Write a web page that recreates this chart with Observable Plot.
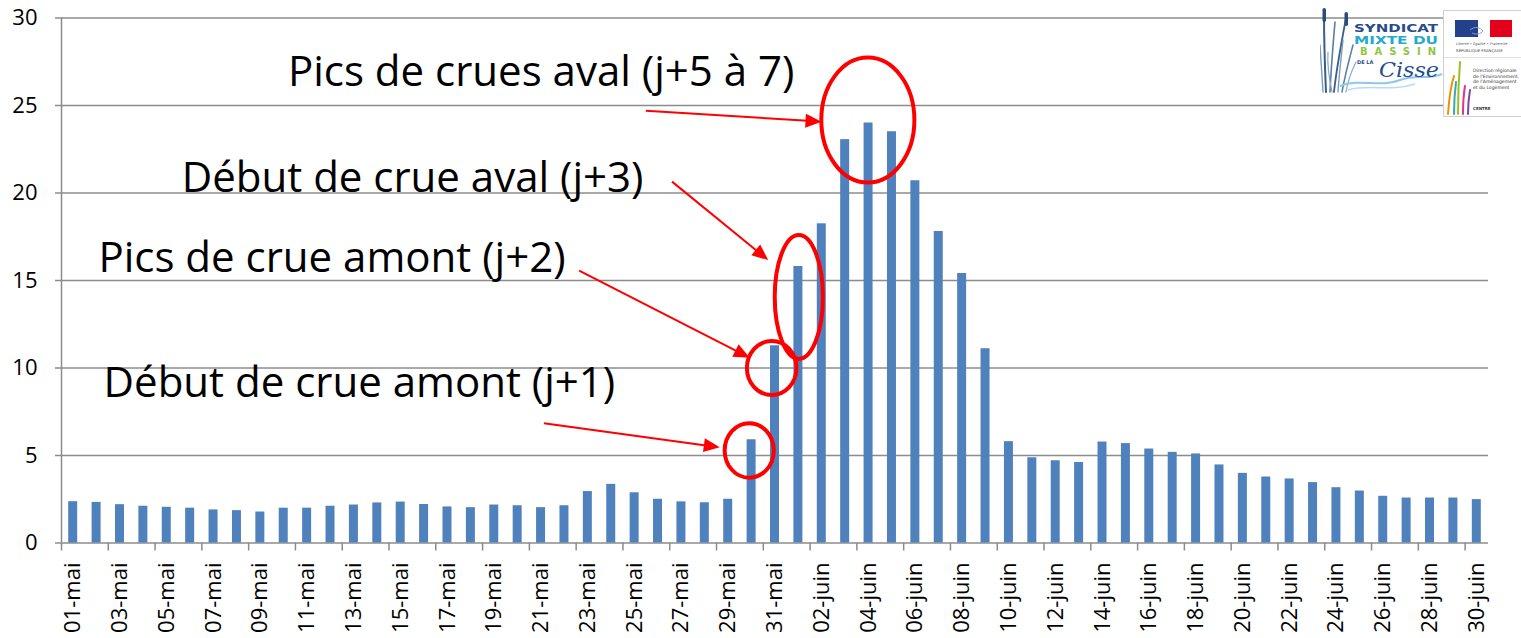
<!DOCTYPE html>
<html>
<head>
<meta charset="utf-8">
<script src="https://cdn.jsdelivr.net/npm/d3@7"></script>
<script src="https://cdn.jsdelivr.net/npm/@observablehq/plot@0.6"></script>
<style>
html,body{margin:0;padding:0;background:#fff;}
#wrap{position:relative;width:1521px;height:638px;overflow:hidden;background:#fff;}
#logos{position:absolute;left:1320px;top:0;}
</style>
</head>
<body>
<div id="wrap">
<div id="chart"></div>
<svg id="logos" width="201" height="125" viewBox="0 0 201 125" xmlns="http://www.w3.org/2000/svg">
  <!-- Syndicat logo -->
  <rect x="33" y="20" width="90" height="80" fill="#fff"/>
  <g fill="none" stroke-linecap="round">
    <path d="M6,92 C5,70 4,40 4,12" stroke="#3b5f86" stroke-width="2"/>
    <path d="M10,92 C11,70 13,45 15,22" stroke="#5a7ea3" stroke-width="1.6"/>
    <path d="M14,92 C16,72 20,50 26,18" stroke="#3b5f86" stroke-width="1.8"/>
    <path d="M18,92 C19,75 21,60 23,40" stroke="#7a9cc0" stroke-width="1.4"/>
    <path d="M22,92 C25,75 29,60 33,45" stroke="#5a7ea3" stroke-width="1.5"/>
    <path d="M3,92 C2,75 1,60 0,45" stroke="#7a9cc0" stroke-width="1.4"/>
    <path d="M26,92 C28,80 31,72 36,62" stroke="#8aa8c8" stroke-width="1.2"/>
    <path d="M12,92 C9,78 7,66 8,52" stroke="#8aa8c8" stroke-width="1.2"/>
  </g>
  <rect x="2.5" y="8" width="3.5" height="14" rx="1.7" fill="#2e4d74"/>
  <rect x="24.5" y="12" width="3.5" height="14" rx="1.7" fill="#2e4d74"/>
  <path d="M20,86 C40,78 60,88 80,80 C95,74 110,80 122,74" fill="none" stroke="#8fc7ec" stroke-width="2"/>
  <path d="M28,90 C50,84 70,92 95,84" fill="none" stroke="#b7dcf5" stroke-width="1.5"/>
  <text x="34" y="32" font-family="DejaVu Sans" font-weight="bold" font-size="11" fill="#2a4b8d" textLength="84" lengthAdjust="spacingAndGlyphs">SYNDICAT</text>
  <text x="34" y="43.5" font-family="DejaVu Sans" font-weight="bold" font-size="10.5" fill="#25a9cc" textLength="84" lengthAdjust="spacingAndGlyphs">MIXTE DU</text>
  <text x="40" y="55" font-family="DejaVu Sans" font-weight="bold" font-size="10" fill="#8dc63f" textLength="76" lengthAdjust="spacing">BASSIN</text>
  <text x="37" y="64" font-family="DejaVu Sans" font-weight="bold" font-size="5" fill="#2a4b8d">DE LA</text>
  <text x="59" y="77" font-family="DejaVu Serif" font-style="italic" font-size="21" fill="#1f4e8c" textLength="60" lengthAdjust="spacingAndGlyphs">Cisse</text>
  <!-- DREAL logo -->
  <rect x="123.5" y="10.5" width="90" height="106" fill="#fff" stroke="#cfcfcf" stroke-width="1"/>
  <rect x="135" y="20" width="23" height="17" fill="#22408c"/>
  <rect x="158" y="20" width="12" height="17" fill="#fff"/>
  <rect x="170" y="20" width="22" height="17" fill="#e3001b"/>
  <path d="M150,30 C155,26 160,27 163,31 C161,34 156,35 152,33" fill="none" stroke="#8aa0c8" stroke-width="1"/>
  <text x="136" y="45" font-family="DejaVu Sans" font-style="italic" font-size="3.6" fill="#555">Liberté • Égalité • Fraternité</text>
  <text x="136" y="52" font-family="DejaVu Sans" font-size="3.8" fill="#444">RÉPUBLIQUE FRANÇAISE</text>
  <line x1="124" y1="57.5" x2="205" y2="57.5" stroke="#e0e0e0"/>
  <g fill="none" stroke-linecap="round" stroke-width="2">
    <path d="M128,114 C129,100 131,85 134,76" stroke="#f29100"/>
    <path d="M138,114 C138,95 139,75 140,62" stroke="#96c11f"/>
    <path d="M134,114 C134,100 135,90 136,82" stroke="#37a7b7"/>
    <path d="M143,114 C143,102 144,92 145,86" stroke="#e6318f"/>
    <path d="M148,114 C148,104 149,96 150,90" stroke="#7a4d9c"/>
  </g>
  <text font-family="DejaVu Sans" font-size="4.6" fill="#333">
    <tspan x="153" y="72">Direction régionale</tspan>
    <tspan x="153" y="77.5">de l'Environnement,</tspan>
    <tspan x="153" y="83">de l'Aménagement</tspan>
    <tspan x="153" y="88.5">et du Logement</tspan>
  </text>
  <text x="153" y="110" font-family="DejaVu Sans" font-weight="bold" font-size="4" fill="#333">CENTRE</text>
</svg>
</div>
<script>
// ---- Data ----
const days = [
  "01-mai","02-mai","03-mai","04-mai","05-mai","06-mai","07-mai","08-mai","09-mai","10-mai",
  "11-mai","12-mai","13-mai","14-mai","15-mai","16-mai","17-mai","18-mai","19-mai","20-mai",
  "21-mai","22-mai","23-mai","24-mai","25-mai","26-mai","27-mai","28-mai","29-mai","30-mai","31-mai",
  "01-juin","02-juin","03-juin","04-juin","05-juin","06-juin","07-juin","08-juin","09-juin","10-juin",
  "11-juin","12-juin","13-juin","14-juin","15-juin","16-juin","17-juin","18-juin","19-juin","20-juin",
  "21-juin","22-juin","23-juin","24-juin","25-juin","26-juin","27-juin","28-juin","29-juin","30-juin"
];
const flow = [
  2.36, 2.32, 2.19, 2.10, 2.04, 1.99, 1.89, 1.85, 1.77, 1.99,
  1.99, 2.10, 2.17, 2.29, 2.34, 2.20, 2.06, 2.02, 2.17, 2.13,
  2.02, 2.13, 2.94, 3.35, 2.87, 2.50, 2.35, 2.30, 2.50, 5.90, 11.27,
  15.80, 18.24, 23.05, 24.00, 23.50, 20.70, 17.80, 15.40, 11.10, 5.79,
  4.87, 4.70, 4.60, 5.77, 5.68, 5.37, 5.18, 5.09, 4.46, 3.98,
  3.77, 3.66, 3.45, 3.16, 2.97, 2.67, 2.57, 2.57, 2.57, 2.48
];
const yTicks = [0, 5, 10, 15, 20, 25, 30];

// Annotations (positions in data units: x = day index, y = flow value)
const annotTexts = ["Pics de crues aval (j+5 à 7)", "Début de crue aval (j+3)", "Pics de crue amont (j+2)", "Début de crue amont (j+1)"];
const annotTextX = [9.68, 5.14, 1.58, 1.80];
const annotTextY = [26.14, 20.05, 15.47, 8.33];
const ellipseCx = [34.49, 31.54, 30.38, 29.42];
const ellipseCy = [24.14, 14.03, 9.97, 5.26];
const ellipseRx = [1.99, 1.03, 1.06, 1.05];
const ellipseRy = [3.57, 3.54, 1.54, 1.56];
const arrowX1 = [25.00, 26.12, 22.15, 20.64];
const arrowY1 = [24.67, 20.62, 15.53, 6.81];
const arrowX2 = [32.51, 30.23, 29.44, 28.16];
const arrowY2 = [24.05, 16.14, 10.56, 5.44];

// ---- Build ----
const data = days.map((d, i) => ({day: d, i, v: flow[i]}));
const boundaryTicks = days.map((d, i) => i).filter(i => i % 2 === 0);
const labelIdx = days.map((d, i) => i).filter(i => i % 2 === 0);
const annIdx = annotTexts.map((d, i) => i);
const gray = "#8c8c8c";

const plot = Plot.plot({
  width: 1521,
  height: 638,
  marginLeft: 61,
  marginRight: 33,
  marginTop: 17.5,
  marginBottom: 95.5,
  style: {fontFamily: "'Open Sans', sans-serif", background: "transparent"},
  x: {type: "linear", domain: [0, days.length], axis: null},
  y: {domain: [0, 30], axis: null},
  marks: [
    Plot.gridY(yTicks, {stroke: gray, strokeOpacity: 1, strokeWidth: 1.5}),
    Plot.axisY({ticks: yTicks, tickSize: 6, tickPadding: 18, stroke: gray, strokeWidth: 1.5, fill: "black", fontSize: 22, label: null, tickFormat: d => String(d)}),
    Plot.ruleX([0], {y1: 0, y2: 30, stroke: gray, strokeWidth: 1.5}),
    Plot.axisX({ticks: boundaryTicks, tickSize: 8, stroke: gray, strokeWidth: 1.5, tickFormat: () => "", label: null}),
    Plot.rectY(data, {x1: d => d.i, x2: d => d.i + 1, y: "v", insetLeft: 7.2, insetRight: 7.2, fill: "#4F81BD"}),
    Plot.text(labelIdx, {x: i => i + 0.5, y: 0, text: i => days[i], rotate: -90, textAnchor: "end", dy: 19.5, fontSize: 22, fill: "black"}),
    Plot.text(annIdx, {x: i => annotTextX[i], y: i => annotTextY[i], text: i => annotTexts[i], textAnchor: "start", lineAnchor: "bottom", fontSize: 42, fill: "black"})
  ]
});

// annotation shapes drawn with the plot's own scales
const sx = plot.scale("x"), sy = plot.scale("y");
const X = d3.scaleLinear().domain(sx.domain).range(sx.range);
const Y = d3.scaleLinear().domain(sy.domain).range(sy.range);
const g = d3.select(plot).append("g").attr("class", "annotations");
annIdx.forEach(i => {
  const cx = X(ellipseCx[i]), cy = Y(ellipseCy[i]);
  g.append("ellipse")
    .attr("cx", cx).attr("cy", cy)
    .attr("rx", Math.abs(X(ellipseCx[i] + ellipseRx[i]) - cx))
    .attr("ry", Math.abs(Y(ellipseCy[i] + ellipseRy[i]) - cy))
    .attr("fill", "none").attr("stroke", "#ff0000").attr("stroke-width", 4);
  const x1 = X(arrowX1[i]), y1 = Y(arrowY1[i]), x2 = X(arrowX2[i]), y2 = Y(arrowY2[i]);
  const len = Math.hypot(x2 - x1, y2 - y1), ux = (x2 - x1) / len, uy = (y2 - y1) / len;
  const hl = 16, hw = 7;
  const bx = x2 - ux * hl, by = y2 - uy * hl;
  g.append("line").attr("x1", x1).attr("y1", y1).attr("x2", bx + ux * 2).attr("y2", by + uy * 2)
    .attr("stroke", "#ff0000").attr("stroke-width", 2);
  g.append("polygon")
    .attr("points", `${x2},${y2} ${bx - uy * hw},${by + ux * hw} ${bx + uy * hw},${by - ux * hw}`)
    .attr("fill", "#ff0000");
});

document.getElementById("chart").appendChild(plot);
</script>
</body>
</html>
